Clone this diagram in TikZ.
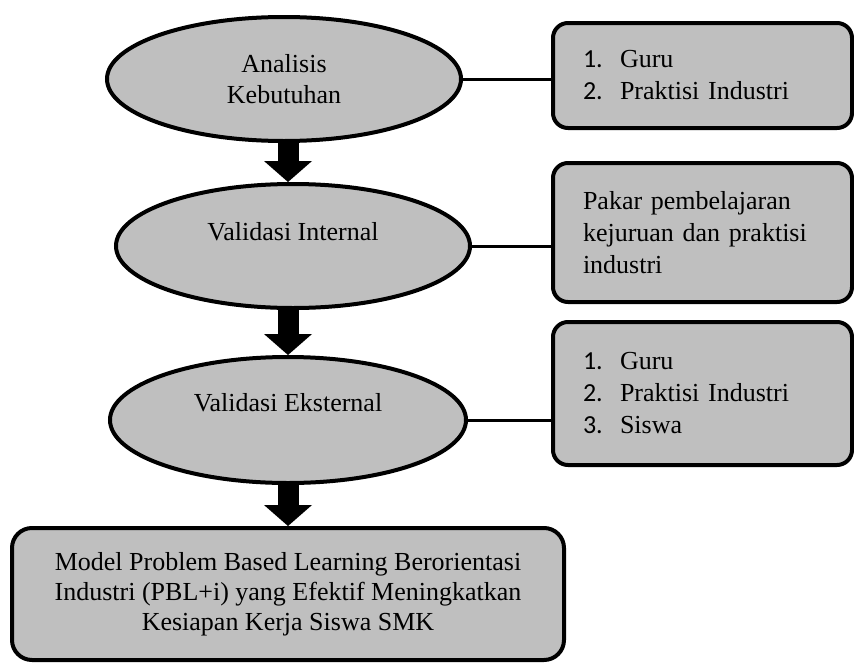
\documentclass[tikz,border=0pt]{standalone}
\usepackage{fontspec}
\setmainfont{Liberation Serif}
\newfontfamily\numfont{Carlito}
\usetikzlibrary{shapes.geometric,arrows.meta}
\definecolor{boxgray}{RGB}{191,191,191}
\newcommand{\itm}[2]{\makebox[37pt][l]{\numfont #1}#2}
\tikzset{
  stage/.style={ellipse, draw=black, line width=4pt, fill=boxgray, inner sep=0pt, align=center,
    font=\fontsize{26}{31}\selectfont},
  side/.style={rectangle, rounded corners=15pt, draw=black, line width=4pt, fill=boxgray,
    minimum width=299pt, inner xsep=30pt, inner ysep=0pt, text width=239pt, align=left,
    font=\fontsize{26}{32}\selectfont},
  result/.style={rectangle, rounded corners=20pt, draw=black, line width=4pt, fill=boxgray,
    minimum width=552pt, minimum height=132pt, inner sep=0pt, align=center,
    font=\fontsize{26}{30}\selectfont},
  link/.style={draw=black, line width=3pt},
  bigarrow/.style={draw=black, line width=21pt, -{Triangle[width=48pt,length=21pt,line width=0pt]}}
}
\begin{document}
\begin{tikzpicture}[x=1pt,y=-1pt]
\useasboundingbox (0,0) rectangle (854,664);
% stages
\node[stage, minimum width=354pt, minimum height=124pt] (e1) at (284,79) {Analisis\\Kebutuhan};
\node[stage, minimum width=354pt, minimum height=124pt] (e2) at (293,246) {Validasi Internal\\[-12pt]\strut};
\node[stage, minimum width=356pt, minimum height=126pt] (e3) at (288,420) {Validasi Eksternal\\[-6pt]\strut};
% side boxes
\node[side, minimum height=105pt] (b1) at (702.5,75.5) {\itm{1.}{Guru}\\\itm{2.}{Praktisi Industri}};
\node[side, minimum height=139pt] (b2) at (702.5,232.5) {Pakar pembelajaran kejuruan dan praktisi industri};
\node[side, minimum height=143pt] (b3) at (702.5,393.5) {\itm{1.}{Guru}\\\itm{2.}{Praktisi Industri}\\\itm{3.}{Siswa}};
% result
\node[result] (r) at (288,594) {Model Problem Based Learning Berorientasi\\Industri (PBL+i) yang Efektif Meningkatkan\\Kesiapan Kerja Siswa SMK};
% links
\draw[link] (e1.east) -- (e1.east -| b1.west);
\draw[link] (e2.east) -- (e2.east -| b2.west);
\draw[link] (e3.east) -- (e3.east -| b3.west);
% block arrows
\coordinate (ax) at (288,0);
\draw[bigarrow] (e1.south -| ax) -- (e2.north -| ax);
\draw[bigarrow] (e2.south -| ax) -- (e3.north -| ax);
\draw[bigarrow] (e3.south -| ax) -- (r.north -| ax);
\end{tikzpicture}
\end{document}
